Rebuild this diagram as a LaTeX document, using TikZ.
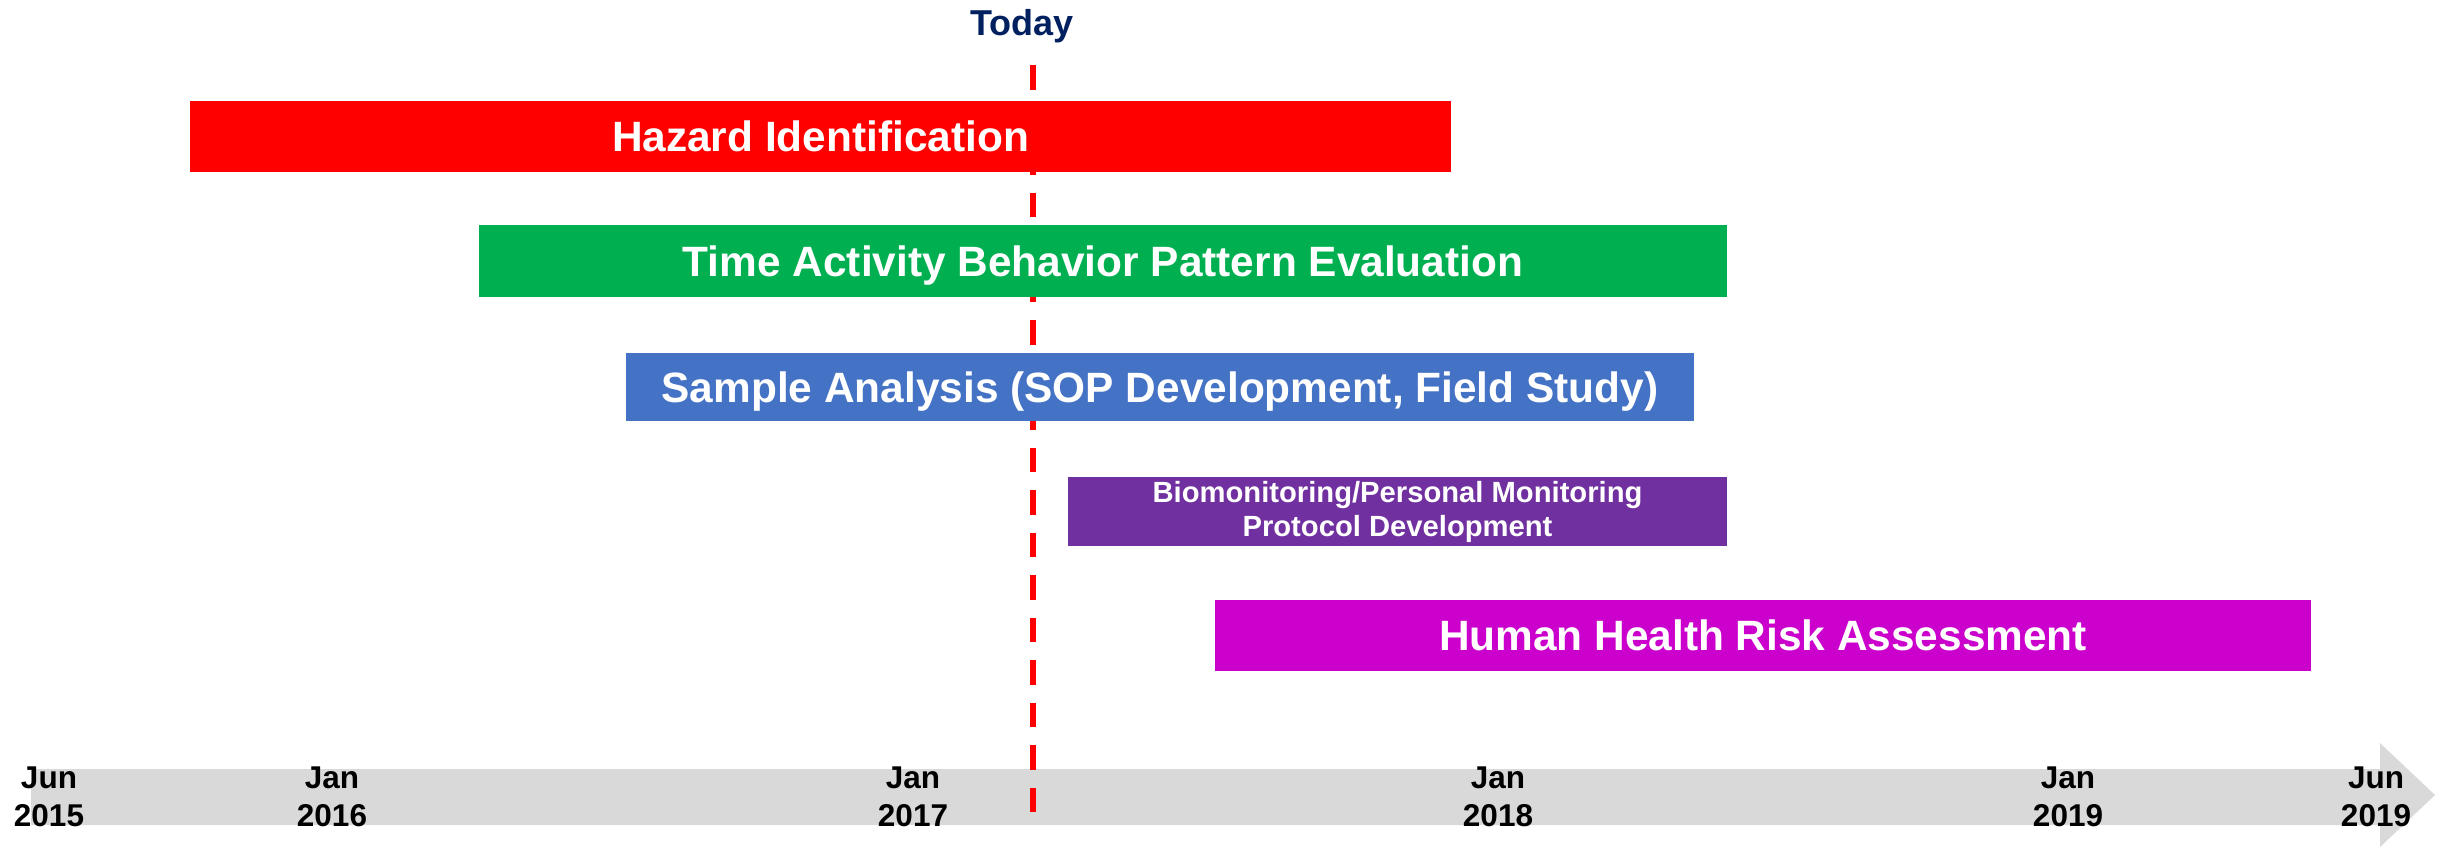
\documentclass[tikz,border=0pt]{standalone}
\usepackage{fontspec}
\setmainfont{Liberation Sans}
\definecolor{barred}{HTML}{FF0000}
\definecolor{bargreen}{HTML}{00B050}
\definecolor{barblue}{HTML}{4472C4}
\definecolor{barpurple}{HTML}{7030A0}
\definecolor{barmagenta}{HTML}{CC00CC}
\definecolor{axisgray}{HTML}{D9D9D9}
\definecolor{todaynavy}{HTML}{002060}
\definecolor{todayred}{HTML}{FF0000}
\tikzset{
  taskbar/.style={rectangle, inner sep=0pt, text=white, align=center,
    font=\bfseries\fontsize{21.2pt}{25pt}\selectfont, text height=15.2pt, text depth=0pt},
  smallbar/.style={rectangle, inner sep=0pt, text=white, align=center,
    font=\bfseries\fontsize{14.6pt}{17pt}\selectfont},
  datelabel/.style={inner sep=0pt, align=center, text=black,
    font=\bfseries\fontsize{15.75pt}{19pt}\selectfont},
  todaylabel/.style={inner sep=0pt, text=todaynavy, font=\bfseries\fontsize{18pt}{21pt}\selectfont},
  todayline/.style={draw=todayred, line width=3pt, dash pattern=on 12.25pt off 9pt}
}
\begin{document}
\begin{tikzpicture}[x=0.5pt,y=-0.5pt]
\useasboundingbox (0,0) rectangle (2440,847);
% timeline arrow
\fill[axisgray] (31,769) -- (2380,769) -- (2380,743) -- (2435,795) -- (2380,847) -- (2380,825) -- (31,825) -- cycle;
% today marker
\node[todaylabel, anchor=base] (today) at (1022,35) {Today};
\coordinate (ttop) at (1033,65);
\coordinate (tbot) at (1033,812);
\draw[todayline] (ttop) -- (tbot);
% bars
\node[taskbar, fill=barred, minimum width=630.5pt, minimum height=35.5pt] (hazard) at (820.5,136.5) {Hazard Identification};
\node[taskbar, fill=bargreen, minimum width=624pt, minimum height=36pt] (timeact) at (1103,261) {Time Activity Behavior Pattern Evaluation};
\node[taskbar, fill=barblue, minimum width=534pt, minimum height=34pt] (sample) at (1160,387) {Sample Analysis (SOP Development, Field Study)};
\node[smallbar, fill=barpurple, minimum width=329.5pt, minimum height=34.5pt] (biomon) at (1397.5,511.5) {Biomonitoring/Personal Monitoring\\Protocol Development};
\node[taskbar, fill=barmagenta, minimum width=548pt, minimum height=35.5pt] (hhra) at (1763,635.5) {Human Health Risk Assessment};
% date labels
\node[datelabel] (d2015) at (49,797) {Jun\\2015};
\node[datelabel] (d2016) at (332,797) {Jan\\2016};
\node[datelabel] (d2017) at (913,797) {Jan\\2017};
\node[datelabel] (d2018) at (1498,797) {Jan\\2018};
\node[datelabel] (d2019) at (2068,797) {Jan\\2019};
\node[datelabel] (d2019j) at (2376,797) {Jun\\2019};
\end{tikzpicture}
\end{document}
